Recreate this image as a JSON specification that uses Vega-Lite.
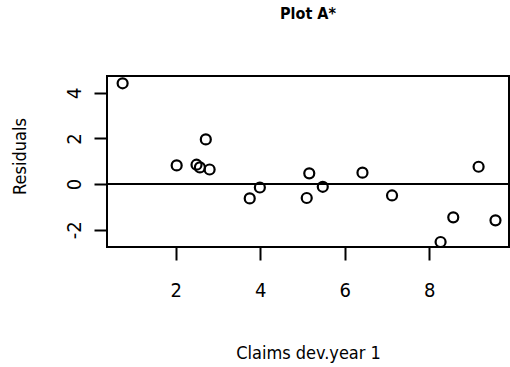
{
  "$schema": "https://vega.github.io/schema/vega-lite/v6.json",
  "autosize": {"type": "none"},
  "width": 402,
  "height": 171,
  "padding": {"left": 107, "top": 76, "right": 1, "bottom": 120},
  "background": "white",
  "title": {
    "text": "Plot A*",
    "font": "DejaVu Sans Condensed",
    "fontSize": 16,
    "fontWeight": "bold",
    "color": "black",
    "anchor": "middle",
    "offset": 52
  },
  "config": {
    "view": {"stroke": "black", "strokeWidth": 2},
    "axis": {
      "grid": false,
      "domain": false,
      "ticks": true,
      "tickColor": "black",
      "tickWidth": 2,
      "tickSize": 13,
      "labelFont": "DejaVu Sans Condensed",
      "labelFontSize": 20,
      "labelColor": "black",
      "titleFont": "DejaVu Sans Condensed",
      "titleFontSize": 18,
      "titleFontWeight": "normal",
      "titleColor": "black"
    }
  },
  "data": {
    "values": [
      {"claims": 0.74, "resid": 4.42},
      {"claims": 2.02, "resid": 0.82},
      {"claims": 2.49, "resid": 0.85},
      {"claims": 2.57, "resid": 0.73},
      {"claims": 2.71, "resid": 1.96},
      {"claims": 2.80, "resid": 0.64},
      {"claims": 3.75, "resid": -0.63},
      {"claims": 3.99, "resid": -0.15},
      {"claims": 5.16, "resid": 0.47},
      {"claims": 5.10, "resid": -0.61},
      {"claims": 5.48, "resid": -0.12},
      {"claims": 6.42, "resid": 0.50},
      {"claims": 7.12, "resid": -0.50},
      {"claims": 8.27, "resid": -2.54},
      {"claims": 8.57, "resid": -1.46},
      {"claims": 9.17, "resid": 0.76},
      {"claims": 9.57, "resid": -1.59}
    ]
  },
  "layer": [
    {
      "mark": {"type": "point", "shape": "circle", "filled": false, "stroke": "black", "strokeWidth": 2.2, "size": 100, "opacity": 1},
      "encoding": {
        "x": {
          "field": "claims", "type": "quantitative",
          "scale": {"domain": [0.37, 9.89], "nice": false, "zero": false},
          "axis": {
            "values": [2, 4, 6, 8],
            "title": "Claims dev.year 1",
            "labelPadding": 20,
            "titleBaseline": "alphabetic",
            "titleY": 111
          }
        },
        "y": {
          "field": "resid", "type": "quantitative",
          "scale": {"domain": [-2.76, 4.74], "nice": false, "zero": false},
          "axis": {
            "values": [-2, -1, 0, 1, 2, 3, 4],
            "labelExpr": "datum.value % 2 == 0 ? replace(datum.label, '−', '-') : ''",
            "labelAngle": -90,
            "labelAlign": "center",
            "labelBaseline": "alphabetic",
            "labelPadding": 14,
            "title": "Residuals",
            "titleAngle": -90,
            "titleAlign": "center",
            "titleBaseline": "alphabetic",
            "titleX": -82,
            "titleY": 80
          }
        }
      }
    },
    {
      "data": {"values": [{"h": 0}]},
      "mark": {"type": "rule", "color": "black", "strokeWidth": 2},
      "encoding": {"y": {"field": "h", "type": "quantitative"}}
    }
  ]
}
